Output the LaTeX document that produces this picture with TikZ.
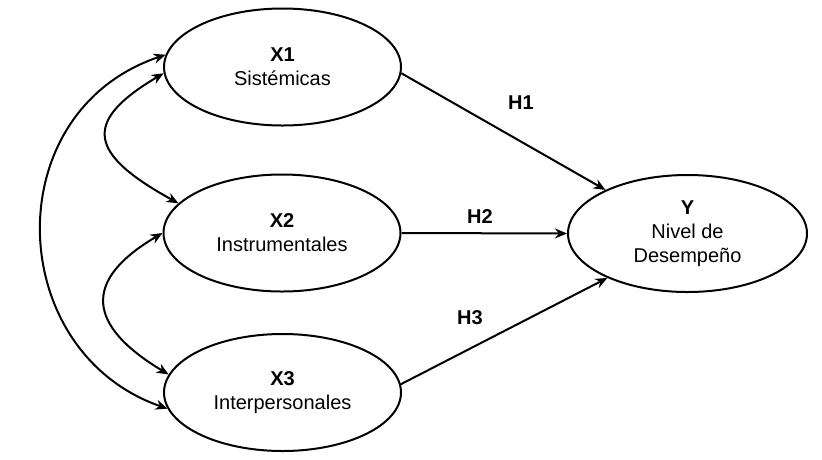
\documentclass[tikz,border=0pt]{standalone}
\usepackage{fontspec}
\setmainfont{Liberation Sans}
\usetikzlibrary{shapes.geometric,arrows.meta}

\begin{document}
\begin{tikzpicture}[x=1pt,y=-1pt,line width=2pt,>={Stealth[length=12pt,width=10pt]},
  latent/.style={ellipse,draw,minimum width=237pt,minimum height=117pt,align=center,
    font=\fontsize{20}{24}\selectfont},
  hyp/.style={font=\fontsize{20}{24}\selectfont\bfseries}]
  \useasboundingbox (0,0) rectangle (822,459);
  \node[latent] (x1) at (282.5,67)  {\textbf{X1}\\Sistémicas};
  \node[latent] (x2) at (282,233)   {\textbf{X2}\\Instrumentales};
  \node[latent] (x3) at (282.5,392.5) {\textbf{X3}\\Interpersonales};
  \node[latent,minimum width=239pt] (y) at (687.5,233.5) {\textbf{Y}\\Nivel de\\Desempeño};
  \draw[->] (x1.357) -- (y.152);
  \draw[->] (x2.east) -- (y.west);
  \draw[->] (x3.4) -- (y.209);
  \node[hyp] (h1) at (521,103) {H1};
  \node[hyp] (h2) at (480,217) {H2};
  \node[hyp] (h3) at (470,318) {H3};
  % covariances
  \draw[<->] (x1.174) .. controls (-4,112) and (4,352) .. (x3.188);
  \draw[<->] (x1.183) .. controls (81,122) and (89,154) .. (x2.164);
  \draw[<->] (x2.180) .. controls (81,281) and (88,326) .. (x3.171);
\end{tikzpicture}
\end{document}
